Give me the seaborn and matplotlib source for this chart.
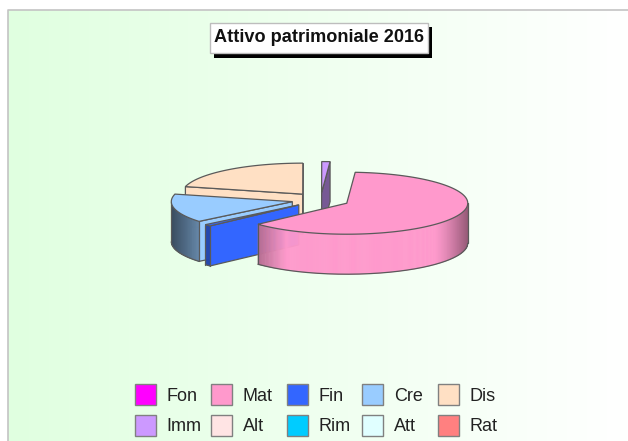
import numpy as np
import seaborn as sns
import matplotlib
matplotlib.use("Agg")
import matplotlib.pyplot as plt
from matplotlib.patches import Rectangle, Polygon, Patch
from matplotlib.collections import PolyCollection
from matplotlib.colors import to_rgb, LinearSegmentedColormap

# ---- data ----
categories = ["Fon", "Mat", "Fin", "Cre", "Dis", "Imm", "Alt", "Rim", "Att", "Rat"]
shares = [0.0, 62.0, 0.9, 14.9, 21.1, 1.1, 0.0, 0.0, 0.0, 0.0]
colors = ["#FF00FF", "#FF99CC", "#3366FF", "#99CCFF", "#FFE0C4",
          "#CC99FF", "#FFE4E4", "#00CCFF", "#E0FFFF", "#FF8080"]
title = "Attivo patrimoniale 2016"

# ---- layout ----
W, H = 628, 441
CX, CY, A, B = 320.6, 200.0, 121.0, 31.0
DEPTH, EXPLODE = 40.0, 29.0
START = 86.0
EDGE = "#5a5a5a"

sns.set_theme(style="white")
plt.rcParams["font.family"] = ["Liberation Sans", "DejaVu Sans"]
palette = sns.color_palette(colors)

fig = plt.figure(figsize=(W / 100, H / 100), dpi=100, facecolor="white")
ax = fig.add_axes([0, 0, 1, 1])
ax.set_xlim(0, W)
ax.set_ylim(H, 0)
ax.set_axis_off()

# panel gradient
cmap = LinearSegmentedColormap.from_list("bg", ["#E0FFE0", "#FFFFFF"])
ax.imshow(np.linspace(0, 1, 256)[None, :], cmap=cmap, aspect="auto",
          extent=(8, W, H, 10), zorder=0, interpolation="bilinear")
ax.set_xlim(0, W)
ax.set_ylim(H, 0)
ax.plot([8, 8, W], [H, 10, 10], color="#C4C4C4", lw=1.2, zorder=1)


def shade(nx):
    """Brightness of a wall whose outward normal has horizontal component nx."""
    if nx < 0:
        return 1 - 0.62 * np.clip((-nx - 0.5) / 0.5, 0, 1)
    return 1 - 0.42 * np.clip((nx - 0.72) / 0.28, 0, 1) ** 1.3


def scaled(rgb, f):
    return tuple(c * f for c in rgb)


def draw_slice(t0, t1, rgb, z):
    """Slice running clockwise from angle t0 down to t1 (degrees)."""
    mid = np.radians((t0 + t1) / 2)
    vx = CX + EXPLODE * np.cos(mid)
    vy = CY - EXPLODE * np.sin(mid) * B / A
    th = np.radians(np.linspace(t0, t1, max(int(abs(t0 - t1)) * 2, 6)))
    ax_, ay_ = vx + A * np.cos(th), vy - B * np.sin(th)

    # radial cut walls, only those facing the viewer
    for t, n in ((t0, t0 + 90), (t1, t1 - 90)):
        if np.sin(np.radians(n)) >= 0:
            continue
        r = np.radians(t)
        px, py = vx + A * np.cos(r), vy - B * np.sin(r)
        ax.add_patch(Polygon([(vx, vy), (px, py), (px, py + DEPTH), (vx, vy + DEPTH)],
                             closed=True, fc=scaled(rgb, shade(np.cos(np.radians(n)))),
                             ec=EDGE, lw=0.9, zorder=z))

    # outer cylindrical wall, front half only
    front = np.sin(th) <= 0
    quads, cols = [], []
    for i in range(len(th) - 1):
        if front[i] and front[i + 1]:
            quads.append([(ax_[i], ay_[i]), (ax_[i + 1], ay_[i + 1]),
                          (ax_[i + 1], ay_[i + 1] + DEPTH), (ax_[i], ay_[i] + DEPTH)])
            cols.append(scaled(rgb, shade(np.cos((th[i] + th[i + 1]) / 2))))
    if quads:
        ax.add_collection(PolyCollection(quads, facecolors=cols, edgecolors=cols,
                                         linewidths=0.4, zorder=z))
        fx, fy = ax_[front], ay_[front]
        ax.plot(fx, fy + DEPTH, color=EDGE, lw=0.9, zorder=z)
        ax.plot([fx[0], fx[0]], [fy[0], fy[0] + DEPTH], color=EDGE, lw=0.9, zorder=z)
        ax.plot([fx[-1], fx[-1]], [fy[-1], fy[-1] + DEPTH], color=EDGE, lw=0.9, zorder=z)

    # top face
    ax.add_patch(Polygon(np.column_stack([np.r_[vx, ax_], np.r_[vy, ay_]]),
                         closed=True, fc=rgb, ec=EDGE, lw=0.9, zorder=z))


# compute slice angles from the shares, clockwise from START
total = sum(shares)
angle = START
slices = {}
for name, v, c in zip(categories, shares, palette):
    sweep = 360.0 * v / total
    if v > 0:
        slices[name] = (angle, angle - sweep, c)
    angle -= sweep

# painter order: back to front
for z, name in enumerate(["Dis", "Imm", "Cre", "Fin", "Mat"], start=3):
    t0, t1, c = slices[name]
    draw_slice(t0, t1, to_rgb(c), z)

# title box with hard shadow
ax.add_patch(Rectangle((213.5, 27), 218.5, 30.5, fc="black", ec="none", zorder=20))
ax.add_patch(Rectangle((209.5, 22.5), 218.5, 30.5, fc="white", ec="#BDBDBD", lw=1.0, zorder=21))
ax.text(318.5, 38, title, ha="center", va="center", fontsize=13.1,
        fontweight="bold", color="#111111", zorder=22)

# legend: five equal columns, two rows, filled row by row
handles = [Patch(fc=c, ec="#808080", lw=1.0, label=n) for n, c in zip(categories, palette)]
order = [0, 5, 1, 6, 2, 7, 3, 8, 4, 9]
leg = ax.legend([handles[i] for i in order], [categories[i] for i in order],
                ncol=5, frameon=False, fontsize=13, loc="lower left",
                bbox_to_anchor=(135, 436), bbox_transform=ax.transData,
                borderaxespad=0, borderpad=0, handlelength=1.16, handleheight=1.43,
                handletextpad=0.6, columnspacing=0.5, labelspacing=0.52,
                labelcolor="#222222")
leg._legend_handle_box.mode = "equal"
sns.despine(ax=ax, left=True, bottom=True)
fig.savefig("out.png", dpi=100, facecolor="white")
